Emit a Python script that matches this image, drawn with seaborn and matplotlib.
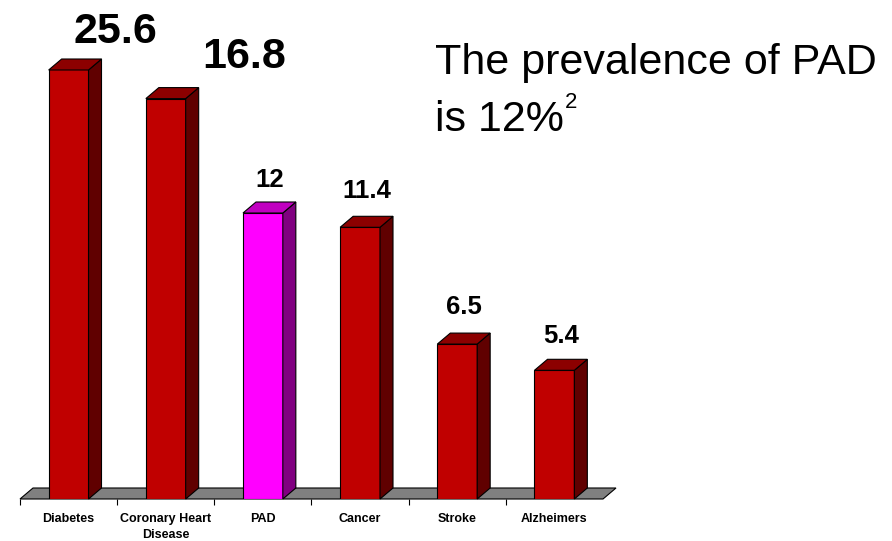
import matplotlib
matplotlib.use("Agg")
import matplotlib.pyplot as plt
from matplotlib.patches import Polygon
import seaborn as sns
import pandas as pd

# Prevalence figures per condition
categories = ["Diabetes", "Coronary Heart\nDisease", "PAD", "Cancer", "Stroke", "Alzheimers"]
prevalence = [25.6, 16.8, 12.0, 11.4, 6.5, 5.4]
value_labels = ["25.6", "16.8", "12", "11.4", "6.5", "5.4"]

# Face colours of each pseudo-3D column: front, side, top
front_colors = ["#C00000", "#C00000", "#FF00FF", "#C00000", "#C00000", "#C00000"]
side_colors = ["#600000", "#600000", "#800080", "#600000", "#600000", "#600000"]
top_colors = ["#8C0000", "#8C0000", "#C000C0", "#8C0000", "#8C0000", "#8C0000"]

# Label styling: font size and offset (points) from the top of the column
label_sizes = [31, 31, 18.5, 18.5, 18.5, 18.5]
label_dx = [29, 51.5, 0, 0, 0, 0]
label_dy = [19.5, 22, 19, 21, 22, 19.5]

sns.set_theme(style="white")
plt.rcParams["font.family"] = ["Liberation Sans", "DejaVu Sans"]

W, H, DPI = 892, 541, 100
fig = plt.figure(figsize=(W / DPI, H / DPI), dpi=DPI)
fig.patch.set_facecolor("white")
ax = fig.add_axes([20 / W, 42 / H, 583 / W, 429 / H])
ax.set_facecolor("none")

df = pd.DataFrame({"category": categories, "prevalence": prevalence})
sns.barplot(data=df, x="category", y="prevalence", hue="category",
            palette=front_colors, legend=False, width=0.41, saturation=1,
            edgecolor="black", linewidth=0.8, ax=ax, zorder=3)
bars = sorted(list(ax.patches), key=lambda p: p.get_x())

ymax = 18
ax.set_ylim(0, ymax)
ax.set_xlim(-0.5, len(categories) - 0.5)

# depth of the 3D effect expressed in data units (13 px right, 11 px up)
px_per_x = 583 / len(categories)
px_per_y = 429 / ymax
dx = 13 / px_per_x
dy = 11 / px_per_y

# floor
floor = Polygon([(-0.5, 0), (len(categories) - 0.5, 0),
                 (len(categories) - 0.5 + dx, dy), (-0.5 + dx, dy)],
                closed=True, facecolor="#808080", edgecolor="black",
                linewidth=0.8, zorder=1, clip_on=False)
ax.add_patch(floor)

for i, p in enumerate(bars):
    x0, w = p.get_x(), p.get_width()
    h = min(p.get_height(), ymax)
    side = Polygon([(x0 + w, 0), (x0 + w + dx, dy), (x0 + w + dx, h + dy), (x0 + w, h)],
                   closed=True, facecolor=side_colors[i], edgecolor="black",
                   linewidth=0.8, zorder=4, clip_on=False)
    top = Polygon([(x0, h), (x0 + w, h), (x0 + w + dx, h + dy), (x0 + dx, h + dy)],
                  closed=True, facecolor=top_colors[i], edgecolor="black",
                  linewidth=0.8, zorder=4, clip_on=False)
    ax.add_patch(side)
    ax.add_patch(top)
    ax.annotate(value_labels[i], xy=(x0 + w / 2 + dx / 2, h),
                xytext=(label_dx[i], label_dy[i]), textcoords="offset points",
                ha="center", va="baseline", fontsize=label_sizes[i],
                fontweight="bold", color="black", annotation_clip=False, zorder=5)

# axis styling
for s in ax.spines.values():
    s.set_visible(False)
ax.set_yticks([])
ax.set_xlabel("")
ax.set_ylabel("")
ax.set_xticks(range(len(categories)))
ax.set_xticklabels(categories, fontsize=9, fontweight="bold", linespacing=1.45)
ax.set_xticks([i - 0.5 for i in range(len(categories))], minor=True)
ax.tick_params(axis="x", which="major", length=0, pad=10, colors="black")
ax.tick_params(axis="x", which="minor", length=4.3, width=0.8, direction="out",
               color="black", bottom=True)

# headline
fig.text(435 / W, 1 - 74 / H, "The prevalence of PAD", fontsize=31,
         ha="left", va="baseline", color="black")
line2 = fig.text(435 / W, 1 - 131 / H, "is 12%", fontsize=31,
                 ha="left", va="baseline", color="black")
fig.canvas.draw()
bb = line2.get_window_extent()
fig.text((bb.x1 + 1) / fig.bbox.width, 1 - 108 / H, "2", fontsize=16,
         ha="left", va="baseline", color="black")

fig.savefig("out.png", dpi=DPI, facecolor="white")
